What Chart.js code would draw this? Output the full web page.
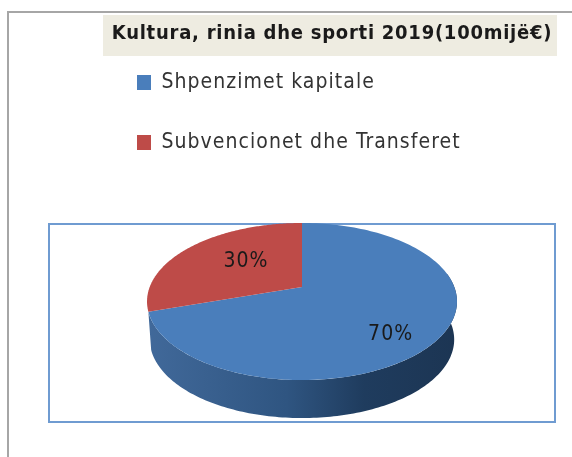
<!DOCTYPE html>
<html>
<head>
<meta charset="utf-8">
<style>
html,body{margin:0;padding:0;background:#fff}
canvas{display:block;filter:blur(0.5px)}
</style>
<script src="https://cdn.jsdelivr.net/npm/chart.js@4"></script>
</head>
<body>
<canvas id="c" width="572" height="457"></canvas>
<script>
const titleText = "Kultura, rinia dhe sporti 2019(100mijë€)";
const categories = ["Shpenzimet kapitale", "Subvencionet dhe Transferet"];
const shares = [70, 30];
const sliceColors = ["#4a7ebb", "#be4b48"];

const TILT = 0.498, PERSP = -0.185, DEPTH = 38;
const FONT = "'DejaVu Sans Condensed','DejaVu Sans'";
function project(arc, angle, f) {
  const r = arc.outerRadius * (f === undefined ? 1 : f);
  const d = 1 + PERSP * (r / arc.outerRadius) * Math.sin(angle);
  return { x: arc.x + r * Math.cos(angle) / d, y: arc.y + TILT * r * Math.sin(angle) / d };
}
function tracePoints(ctx, arc, a0, a1, dy, sx, first) {
  const n = 160;
  for (let i = 0; i <= n; i++) {
    const p = project(arc, a0 + (a1 - a0) * i / n);
    const x = arc.x + (p.x - arc.x) * sx, y = p.y + dy;
    if (i === 0 && first) ctx.moveTo(x, y); else ctx.lineTo(x, y);
  }
}
function spaced(box, spacing) {
  const draw = box.draw;
  box.draw = function () {
    const ctx = this.ctx;
    ctx.letterSpacing = spacing;
    draw.apply(this, arguments);
    ctx.letterSpacing = "0px";
  };
}
const pie3d = {
  id: "pie3d",
  afterInit(chart) {
    spaced(chart.titleBlock, "0.75px");
    spaced(chart.legend, "1.05px");
  },
  afterLayout(chart) {
    const a = chart.chartArea;
    a.left = 32; a.right = 572; a.top = 117; a.bottom = 457;
    a.width = 540; a.height = 340;
  },
  beforeDraw(chart) {
    const ctx = chart.ctx;
    ctx.save();
    ctx.fillStyle = "#ffffff"; ctx.fillRect(0, 0, 572, 457);
    ctx.strokeStyle = "#a6a6a6"; ctx.lineWidth = 2;
    ctx.beginPath(); ctx.moveTo(8, 457); ctx.lineTo(8, 12); ctx.lineTo(572, 12); ctx.stroke();
    ctx.fillStyle = "#eeece1"; ctx.fillRect(103, 15, 454, 41);
    ctx.strokeStyle = "#6f9bd1"; ctx.lineWidth = 2;
    ctx.strokeRect(49, 224, 506, 198);
    ctx.restore();
    const t = chart.titleBlock; t.left = 103; t.right = 561; t.top = 22;
    const l = chart.legend; l.left = 98; l.right = 572; l.top = 33;
  },
  beforeDatasetsDraw(chart) {
    const ctx = chart.ctx, arcs = chart.getDatasetMeta(0).data;
    const main = arcs[0];
    ctx.save();
    const g = ctx.createLinearGradient(147, 0, 457, 0);
    g.addColorStop(0, "#41699a"); g.addColorStop(0.45, "#2f5581");
    g.addColorStop(0.7, "#1f3c5e"); g.addColorStop(1, "#1c3553");
    ctx.fillStyle = g;
    const from = Math.max(main.startAngle, Math.asin(PERSP));
    const to = Math.min(main.endAngle, Math.PI);
    ctx.beginPath();
    tracePoints(ctx, main, from, to, 0, 1, true);
    tracePoints(ctx, main, to, from, DEPTH, 0.982, false);
    ctx.closePath(); ctx.fill();
    arcs.forEach((arc, i) => {
      ctx.fillStyle = sliceColors[i];
      ctx.beginPath();
      ctx.moveTo(arc.x, arc.y);
      tracePoints(ctx, arc, arc.startAngle, arc.endAngle, 0, 1, false);
      ctx.closePath(); ctx.fill();
    });
    ctx.fillStyle = "#1a1a1a";
    ctx.font = "21px " + FONT;
    ctx.letterSpacing = "1px";
    ctx.textAlign = "center"; ctx.textBaseline = "middle";
    const total = shares.reduce((s, v) => s + v, 0);
    arcs.forEach((arc, i) => {
      const mid = (arc.startAngle + arc.endAngle) / 2;
      const p = project(arc, mid, i === 0 ? 0.66 : 0.55);
      ctx.fillText(Math.round(shares[i] / total * 100) + "%", p.x + (i === 0 ? 1 : 8), p.y + (i === 0 ? 16 : -2));
    });
    ctx.letterSpacing = "0px";
    ctx.restore();
    return false;
  }
};

new Chart(document.getElementById("c"), {
  type: "pie",
  data: { labels: categories, datasets: [{ data: shares, backgroundColor: sliceColors, borderWidth: 0 }] },
  options: {
    responsive: false,
    animation: false,
    radius: 152.3,
    plugins: {
      tooltip: { enabled: false },
      title: { display: true, text: titleText, color: "#1a1a1a", padding: 0,
               font: { family: FONT, size: 20, weight: "bold" } },
      legend: { display: true, position: "top", align: "start",
                labels: { boxWidth: 14, boxHeight: 15, padding: 39, color: "#333333",
                          font: { family: FONT, size: 21 } } }
    }
  },
  plugins: [pie3d]
});
</script>
</body>
</html>
